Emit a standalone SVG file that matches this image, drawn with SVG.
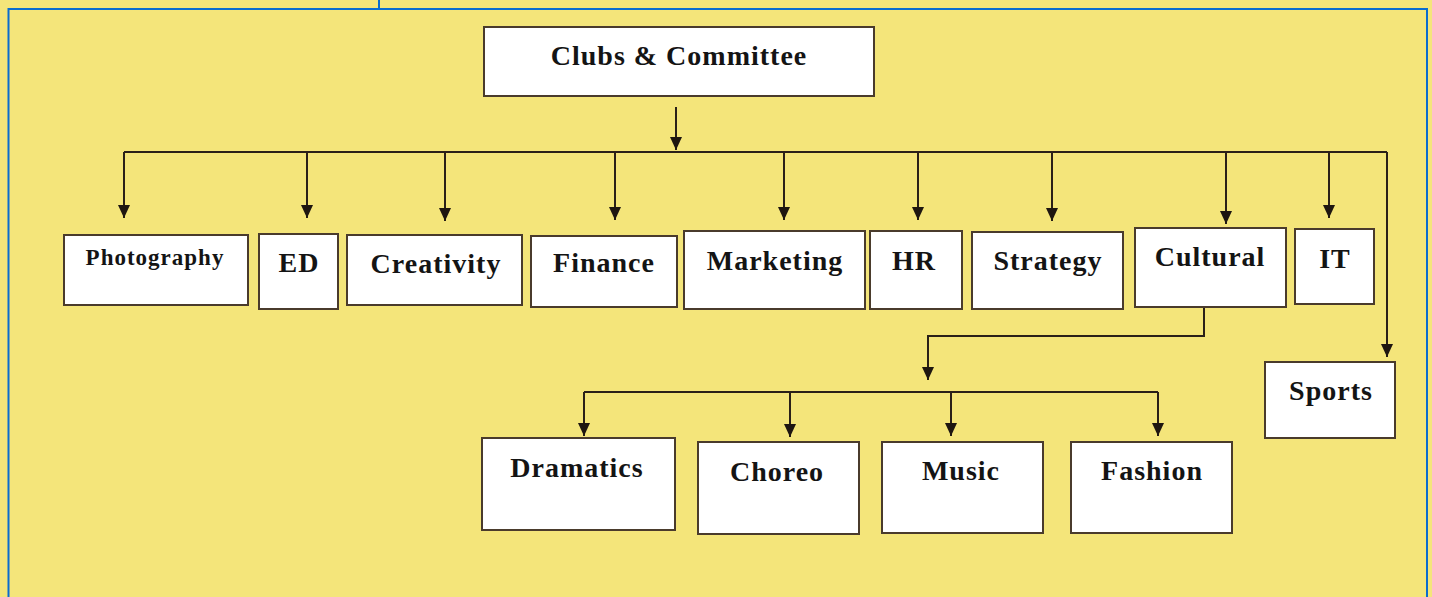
<svg xmlns="http://www.w3.org/2000/svg" width="1432" height="597" viewBox="0 0 1432 597">
<defs>
<marker id="ah" viewBox="0 -6 13 12" refX="13" refY="0" markerWidth="13" markerHeight="12" markerUnits="userSpaceOnUse" orient="auto">
<path d="M0,-6 L13,0 L0,6 z" fill="#1e1610"/>
</marker>
<style>
.box{fill:#ffffff;stroke:#4a3b2c;stroke-width:2}
.lbl{font-family:"Liberation Serif","Times New Roman",serif;font-weight:bold;font-size:28px;letter-spacing:1px;fill:#141414;text-anchor:middle}
.sm{font-size:23px}
.con{fill:none;stroke:#2a2018;stroke-width:2}
.arr{marker-end:url(#ah)}
.frame{stroke:#0a6ccf;stroke-width:2;fill:none}
</style>
</defs>
<rect x="0" y="0" width="1432" height="597" fill="#f4e57a"/>
<g id="frame">
<path class="frame" d="M8.5,597 V9 H1427 V597"/>
<path class="frame" d="M379,0 V9"/>
</g>
<g id="connectors">
<path class="con arr" d="M676,107 V150"/>
<path class="con" d="M124,152 H1387"/>
<path class="con arr" d="M124,152 V218"/>
<path class="con arr" d="M307,152 V218"/>
<path class="con arr" d="M445,152 V221"/>
<path class="con arr" d="M615,152 V220"/>
<path class="con arr" d="M784,152 V220"/>
<path class="con arr" d="M918,152 V220"/>
<path class="con arr" d="M1052,152 V221"/>
<path class="con arr" d="M1226,152 V224"/>
<path class="con arr" d="M1329,152 V218"/>
<path class="con arr" d="M1387,152 V357"/>
<path class="con arr" d="M1204,307 V336 H928 V380"/>
<path class="con" d="M584,392 H1158"/>
<path class="con arr" d="M584,392 V436"/>
<path class="con arr" d="M790,392 V437"/>
<path class="con arr" d="M951,392 V436"/>
<path class="con arr" d="M1158,392 V436"/>
</g>
<g id="clubs"><rect class="box" x="484" y="27" width="390" height="69"/><text class="lbl" x="679" y="65">Clubs &amp; Committee</text></g>
<g id="photography"><rect class="box" x="64" y="235" width="184" height="70"/><text class="lbl sm" x="155" y="265">Photography</text></g>
<g id="ed"><rect class="box" x="259" y="234" width="79" height="75"/><text class="lbl" x="299" y="272">ED</text></g>
<g id="creativity"><rect class="box" x="347" y="235" width="175" height="70"/><text class="lbl" x="436" y="273">Creativity</text></g>
<g id="finance"><rect class="box" x="531" y="236" width="146" height="71"/><text class="lbl" x="604" y="272">Finance</text></g>
<g id="marketing"><rect class="box" x="684" y="231" width="181" height="78"/><text class="lbl" x="775" y="270">Marketing</text></g>
<g id="hr"><rect class="box" x="870" y="231" width="92" height="78"/><text class="lbl" x="914" y="270">HR</text></g>
<g id="strategy"><rect class="box" x="972" y="232" width="151" height="77"/><text class="lbl" x="1048" y="270">Strategy</text></g>
<g id="cultural"><rect class="box" x="1135" y="228" width="151" height="79"/><text class="lbl" x="1210" y="266">Cultural</text></g>
<g id="it"><rect class="box" x="1295" y="229" width="79" height="75"/><text class="lbl" x="1335" y="268">IT</text></g>
<g id="sports"><rect class="box" x="1265" y="362" width="130" height="76"/><text class="lbl" x="1331" y="400">Sports</text></g>
<g id="dramatics"><rect class="box" x="482" y="438" width="193" height="92"/><text class="lbl" x="577" y="477">Dramatics</text></g>
<g id="choreo"><rect class="box" x="698" y="442" width="161" height="92"/><text class="lbl" x="777" y="481">Choreo</text></g>
<g id="music"><rect class="box" x="882" y="442" width="161" height="91"/><text class="lbl" x="961" y="480">Music</text></g>
<g id="fashion"><rect class="box" x="1071" y="442" width="161" height="91"/><text class="lbl" x="1152" y="480">Fashion</text></g>
</svg>
